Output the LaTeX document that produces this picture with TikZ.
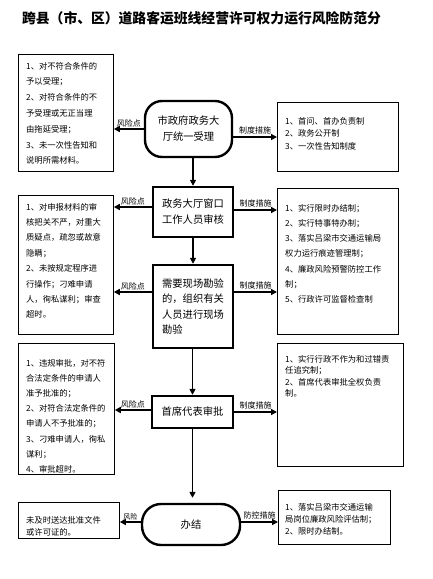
\documentclass[tikz,border=0pt]{standalone}
\usepackage{fontspec}
\newfontfamily\cjk{Noto Sans CJK SC}
\usetikzlibrary{arrows.meta}
\tikzset{
  mainbox/.style={draw, line width=2.4pt, font=\cjk\fontsize{10.3}{16}\selectfont, align=center, inner sep=0pt},
  sidebox/.style={draw, line width=0.8pt, anchor=north west, inner sep=0pt},
  sidetext/.style={anchor=north west, inner sep=0pt, align=left},
  arr/.style={line width=1.8pt, -{Triangle[length=6pt,width=6pt]}},
  lbl/.style={font=\cjk\fontsize{8}{8}\selectfont, inner sep=0.8pt}
}
\begin{document}
\begin{tikzpicture}[x=1pt,y=-1pt]
\useasboundingbox (0,0) rectangle (433,579);
% title
\node[font=\cjk\bfseries\fontsize{13.8}{14}\selectfont, inner sep=0] (title) at (201.5,18) {跨县（市、区）道路客运班线经营许可权力运行风险防范分};
% centre column
\node[mainbox, rounded corners=17pt, minimum width=87pt, minimum height=56pt] (n1) at (188.5,129) {市政府政务大\\厅统一受理};
\node[mainbox, minimum width=80pt, minimum height=50pt] (n2) at (193,212) {政务大厅窗口\\工作人员审核};
\node[mainbox, minimum width=80pt, minimum height=83pt, align=left, font=\cjk\fontsize{10.3}{15.3}\selectfont] (n3) at (193,306.5) {需要现场勘验\\的，组织有关\\人员进行现场\\勘验};
\node[mainbox, minimum width=81pt, minimum height=32pt] (n4) at (192.5,412) {首席代表审批};
\node[mainbox, rounded corners=19pt, minimum width=98pt, minimum height=41pt] (n5) at (191,524.5) {办结};
% left boxes
\node[sidebox, minimum width=95pt, minimum height=117pt] (l1) at (18,54) {};
\node[sidetext, font=\cjk\fontsize{8.3}{15.8}\selectfont] (t1) at (26,61.8) {1、对不符合条件的\\予以受理；\\2、对符合条件的不\\予受理或无正当理\\由拖延受理；\\3、未一次性告知和\\说明所需材料。};
\node[sidebox, minimum width=95pt, minimum height=139pt] (l2) at (18,195) {};
\node[sidetext, font=\cjk\fontsize{8.3}{15.4}\selectfont] (t2) at (26,202.8) {1、对申报材料的审\\核把关不严，对重大\\质疑点，疏忽或故意\\隐瞒；\\2、未按规定程序进\\行操作；刁难申请\\人，徇私谋利；审查\\超时。};
\node[sidebox, minimum width=96pt, minimum height=131pt] (l3) at (18,343) {};
\node[sidetext, font=\cjk\fontsize{8.3}{15.2}\selectfont] (t3) at (26,358.8) {1、违规审批，对不符\\合法定条件的申请人\\准予批准的；\\2、对符合法定条件的\\申请人不予批准的；\\3、刁难申请人，徇私\\谋利；\\4、审批超时。};
\node[sidebox, minimum width=101pt, minimum height=36pt] (l4) at (18,502) {};
\node[sidetext, font=\cjk\fontsize{8.3}{12}\selectfont] (t4) at (26,515.8) {未及时送达批准文件\\或许可证的。};
% right boxes
\node[sidebox, minimum width=121pt, minimum height=69pt] (r1) at (277,102) {};
\node[sidetext, font=\cjk\fontsize{8.3}{12.5}\selectfont] (s1) at (285,116.8) {1、首问、首办负责制\\2、政务公开制\\3、一次性告知制度};
\node[sidebox, minimum width=121pt, minimum height=146pt] (r2) at (277,188) {};
\node[sidetext, font=\cjk\fontsize{8.3}{15.3}\selectfont] (s2) at (285,203.8) {1、实行限时办结制；\\2、实行特事特办制；\\3、落实吕梁市交通运输局\\权力运行痕迹管理制；\\4、廉政风险预警防控工作\\制；\\5、行政许可监督检查制};
\node[sidebox, minimum width=126pt, minimum height=123pt] (r3) at (277,343) {};
\node[sidetext, font=\cjk\fontsize{8.3}{11.5}\selectfont] (s3) at (285,354.8) {1、实行行政不作为和过错责\\任追究制；\\2、首席代表审批全权负责\\制。};
\node[sidebox, minimum width=112pt, minimum height=54pt] (r4) at (278,490) {};
\node[sidetext, font=\cjk\fontsize{8.3}{12}\selectfont] (s4) at (285,502.8) {1、落实吕梁市交通运输\\局岗位廉政风险评估制；\\2、限时办结制。};
% vertical connectors
\draw[arr] (n1.south -| n2.north) -- (n2.north);
\draw[arr] (n2.south) -- (n3.north);
\draw[arr] (n3.south -| n4.north) -- (n4.north);
\draw[arr, shorten >=5pt] (n4.south) -- (n4.south |- n5.north);
% risk points (left)
\draw[arr] (n1.west) -- (n1.west -| l1.east) node[lbl, midway, above] {风险点};
\draw[arr] ([yshift=5pt]n2.west) -- ([yshift=5pt]n2.west -| l2.east) node[lbl, midway, above] {风险点};
\draw[arr] ([yshift=14.5pt]n3.west) -- ([yshift=14.5pt]n3.west -| l2.east) node[lbl, midway, above] {风险点};
\draw[arr] ([yshift=2pt]n4.west) -- ([yshift=2pt]n4.west -| l3.east) node[lbl, midway, above] {风险点};
\draw[arr] ([yshift=2.5pt]n5.west) -- ([yshift=2.5pt]n5.west -| l4.east) node[lbl, midway, above, font=\cjk\fontsize{7}{7}\selectfont] {风险};
% measures (right)
\draw[arr] ([yshift=-8pt]n1.east) -- ([yshift=-8pt]n1.east -| r1.west) node[lbl, midway, above, inner sep=1.5pt] {制度措施};
\draw[arr] ([yshift=2pt]n2.east) -- ([yshift=2pt]n2.east -| r2.west) node[lbl, midway, above, inner sep=1.5pt] {制度措施};
\draw[arr] ([yshift=14.5pt]n3.east) -- ([yshift=14.5pt]n3.east -| r2.west) node[lbl, midway, above, inner sep=1.5pt] {制度措施};
\draw[arr] (n4.east) -- (n4.east -| r3.west) node[lbl, midway, above, inner sep=1.5pt] {制度措施};
\draw[arr] ([yshift=2.5pt]n5.east) -- ([yshift=2.5pt]n5.east -| r4.west) node[lbl, midway, above, inner sep=2pt] {防控措施};
\end{tikzpicture}
\end{document}
